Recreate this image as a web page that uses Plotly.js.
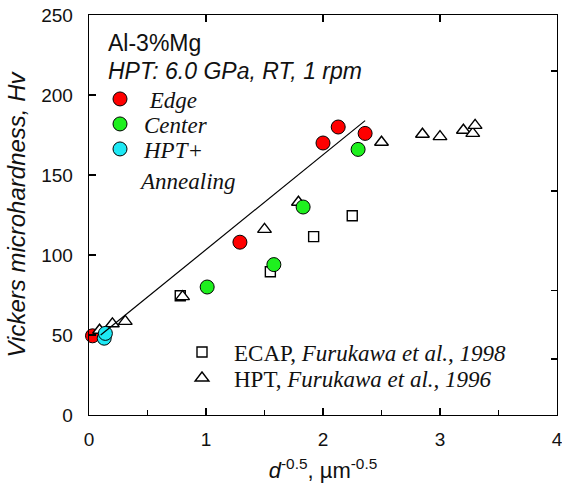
<!DOCTYPE html>
<html>
<head>
<meta charset="utf-8">
<script src="https://cdn.plot.ly/plotly-3.0.1.min.js"></script>
<style>html,body{margin:0;padding:0;background:#fff;}#chart{width:562px;height:486px;}</style>
</head>
<body>
<div id="chart"></div>
<script>
// Data
const edgeX = [0.03, 1.29, 2.00, 2.13, 2.36];
const edgeY = [49.5, 108, 170, 180, 176];
const centerX = [1.01, 1.58, 1.83, 2.30];
const centerY = [80, 94, 130, 166];
const annealX = [0.13, 0.14];
const annealY = [48, 51];
const ecapX = [0.78, 1.55, 1.92, 2.25];
const ecapY = [74.5, 89.5, 111.5, 124.5];
const hptX = [0.09, 0.20, 0.31, 0.80, 1.50, 1.79, 2.50, 2.85, 3.00, 3.20, 3.28, 3.30];
const hptY = [53, 57, 58.5, 74, 116, 133, 170.5, 175.5, 174, 178, 176, 181];
const fitX = [0.10, 2.36];
const fitY = [50, 184];
const xTicks = [0, 1, 2, 3, 4];
const yTicks = [0, 50, 100, 150, 200, 250];
const topTicks = [1, 2, 3];
const rightTicks = [35, 78, 140, 215];

const serif = 'Liberation Serif, Times New Roman, serif';
const sans = 'Liberation Sans, Arial, sans-serif';
const legSize = 23;

const traces = [
  {x: edgeX, y: edgeY, mode: 'markers', name: '<i> Edge</i>', legend: 'legend', cliponaxis: false,
   marker: {symbol: 'circle', size: 14, color: '#ff0000', line: {color: '#000', width: 1}}},
  {x: ecapX, y: ecapY, mode: 'markers', name: 'ECAP, <i>Furukawa et al., 1998</i>', legend: 'legend4', cliponaxis: false,
   marker: {symbol: 'square', size: 10, color: '#fff', line: {color: '#000', width: 1.4}}},
  {x: hptX, y: hptY, mode: 'markers', name: 'HPT, <i>Furukawa et al., 1996</i>', legend: 'legend5', cliponaxis: false,
   marker: {symbol: 'triangle-up', size: 12, color: '#fff', line: {color: '#000', width: 1.4}}},
  {x: centerX, y: centerY, mode: 'markers', name: '<i>Center</i>', legend: 'legend2', cliponaxis: false,
   marker: {symbol: 'circle', size: 14, color: '#1ef01e', line: {color: '#000', width: 1}}},
  {x: annealX, y: annealY, mode: 'markers', name: '<i>HPT+</i>', legend: 'legend3', cliponaxis: false,
   marker: {symbol: 'circle', size: 14, color: '#1ee8f4', line: {color: '#000', width: 1}}},
  {x: fitX, y: fitY, xaxis: 'x2', yaxis: 'y2', mode: 'lines', line: {color: '#000', width: 1.2}, showlegend: false, hoverinfo: 'skip'}
];

function leg(px, py, iw) {
  return {x: (px - 89) / 468, y: (415 - py) / 400, xanchor: 'left', yanchor: 'middle',
    bgcolor: 'rgba(0,0,0,0)', font: {family: serif, size: legSize, color: '#111'}, itemwidth: iw};
}

const layout = {
  width: 562, height: 486,
  margin: {l: 89, r: 5, t: 15, b: 71, pad: 0},
  paper_bgcolor: '#fff', plot_bgcolor: '#fff',
  font: {family: sans, color: '#111'},
  xaxis: {
    range: [0, 4], tickvals: xTicks, ticks: 'inside', ticklen: 7, tickcolor: '#000', tickwidth: 1.2,
    minor: {dtick: 0.5, ticks: 'inside', ticklen: 5, tickcolor: '#000', tickwidth: 1.2, showgrid: false},
    showline: true, linecolor: '#000', linewidth: 1.3, mirror: true,
    showgrid: false, zeroline: false, tickfont: {size: 19, family: sans, color: '#111'},
    ticklabelstandoff: 7, ticklabeloverflow: 'allow',
    title: {text: '<i>d</i><sup>-0.5</sup>, \u00b5m<sup>-0.5</sup>', font: {size: 22, family: sans, color: '#111'}, standoff: 13}
  },
  yaxis: {
    range: [0, 250], tickvals: yTicks, ticks: 'inside', ticklen: 7, tickcolor: '#000', tickwidth: 1.2,
    showline: true, linecolor: '#000', linewidth: 1.3, mirror: true,
    showgrid: false, zeroline: false, tickfont: {size: 19, family: sans, color: '#111'},
    ticklabelstandoff: 11, ticklabeloverflow: 'allow',
    title: {text: '<i>Vickers microhardness, Hv</i>', font: {size: 24, family: sans, color: '#111'}, standoff: 8}
  },
  xaxis2: {overlaying: 'x', side: 'top', anchor: 'y2', range: [0, 4], tickvals: topTicks, ticks: 'inside',
    ticklen: 7, tickcolor: '#000', tickwidth: 1.2, showticklabels: false, showgrid: false, zeroline: false, showline: false},
  yaxis2: {overlaying: 'y', side: 'right', anchor: 'x2', range: [0, 250], tickvals: rightTicks, ticks: 'inside',
    ticklen: 6, tickcolor: '#000', tickwidth: 1.2, showticklabels: false, showgrid: false, zeroline: false, showline: false},
  legend: leg(96, 99, 38),
  legend2: leg(96, 124, 38),
  legend3: leg(96, 149, 38),
  legend4: leg(170, 352, 54),
  legend5: leg(170, 378, 54),
  annotations: [
    {xref: 'paper', yref: 'paper', x: 0.036, y: 0.93, xanchor: 'left', yanchor: 'middle', showarrow: false,
     text: 'Al-3%Mg', font: {family: sans, size: 23, color: '#111'}},
    {xref: 'paper', yref: 'paper', x: 0.036, y: 0.86, xanchor: 'left', yanchor: 'middle', showarrow: false,
     text: '<i>HPT: 6.0 GPa, RT, 1 rpm</i>', font: {family: sans, size: 23, color: '#111'}},
    {xref: 'paper', yref: 'paper', x: (137 - 89) / 468, y: (415 - 181) / 400, xanchor: 'left', yanchor: 'middle', showarrow: false,
     text: '<i>Annealing</i>', font: {family: serif, size: legSize, color: '#111'}}
  ]
};

Plotly.newPlot('chart', traces, layout, {displayModeBar: false, staticPlot: true});
</script>
</body>
</html>
